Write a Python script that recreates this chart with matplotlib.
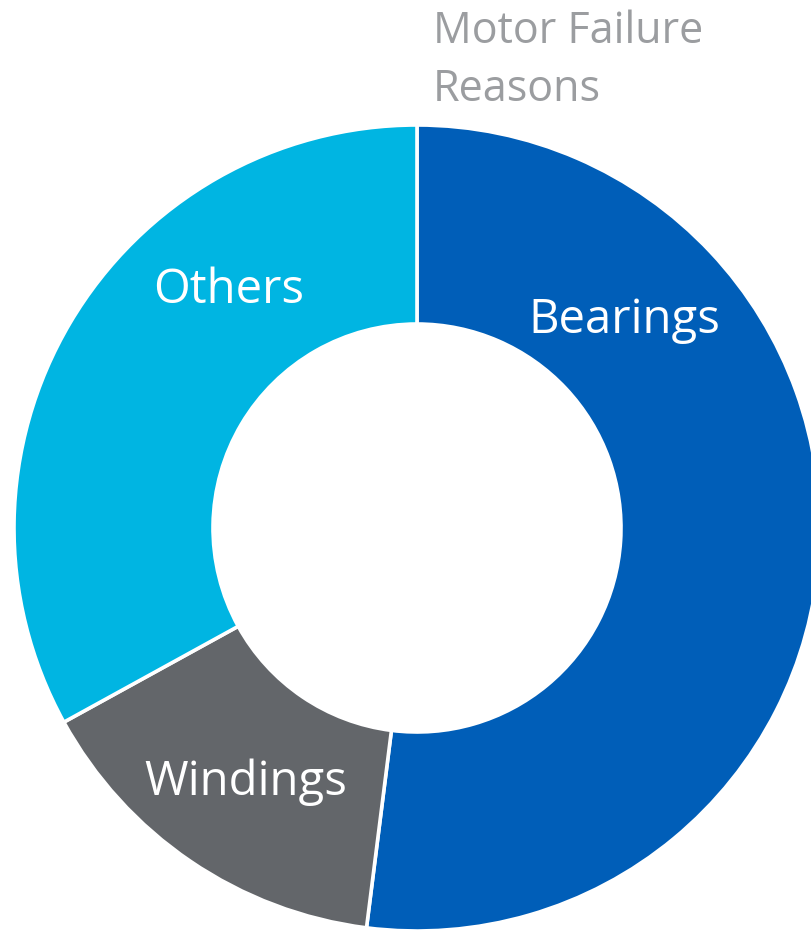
import matplotlib
matplotlib.use("Agg")
import matplotlib.pyplot as plt

categories = ["Bearings", "Windings", "Others"]
values = [52, 15, 33]
colors = ["#005EB8", "#63666A", "#00B5E2"]
title_lines = ["Motor Failure", "Reasons"]

W, H = 811, 930
fig = plt.figure(figsize=(W / 100, H / 100), dpi=100)
ax = fig.add_axes([0, 0, 1, 1])

cx, cy = 417, H - 528
R, r = 403, 204
ax.pie(values, colors=colors, startangle=90, counterclock=False,
       center=(cx, cy), radius=R, frame=True,
       wedgeprops=dict(width=R - r, edgecolor="white", linewidth=2.6))
ax.set_xlim(0, W)
ax.set_ylim(0, H)
ax.set_aspect("equal")
ax.axis("off")

font = ["Open Sans", "DejaVu Sans"]
label_pos = [(624, 320), (246, 782), (229, 290)]
for name, (x, y) in zip(categories, label_pos):
    ax.text(x, H - y, name, color="white", fontsize=34, family=font,
            ha="center", va="center")

for line, base in zip(title_lines, [43, 101]):
    ax.text(433, H - base, line, color="#9B9DA0", fontsize=31, family=font,
            ha="left", va="baseline")

fig.savefig("out.png", dpi=100)
